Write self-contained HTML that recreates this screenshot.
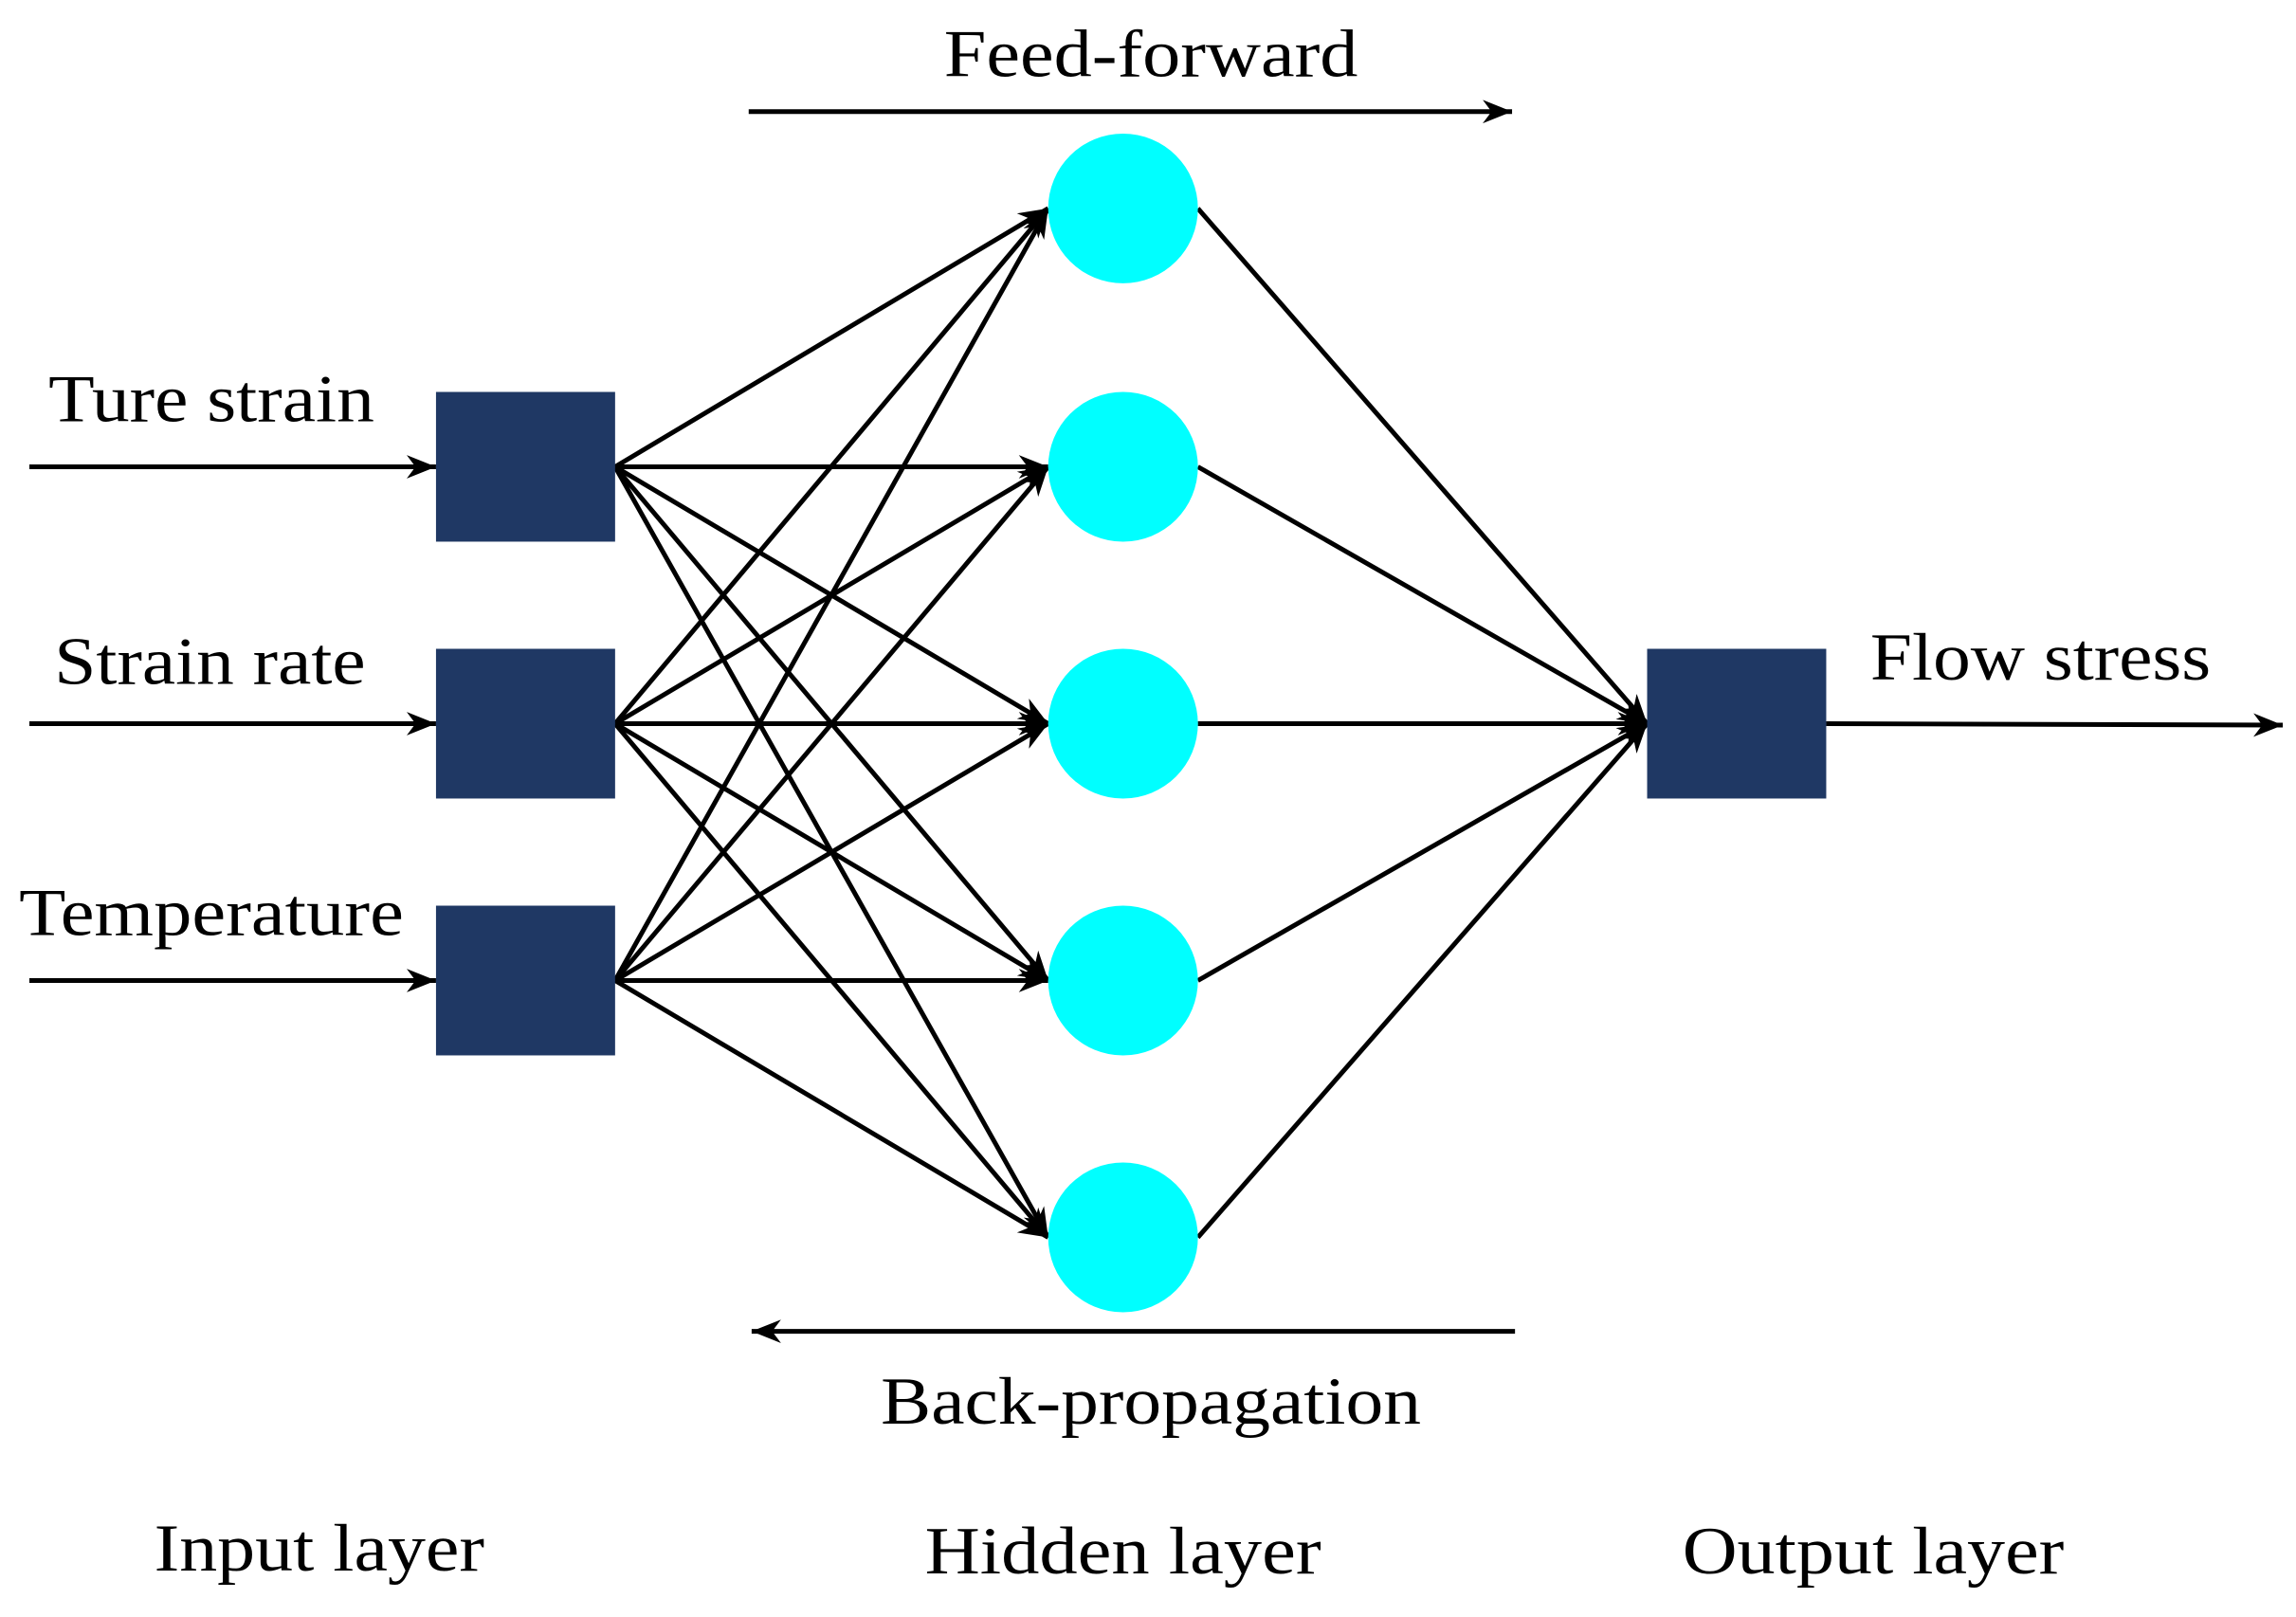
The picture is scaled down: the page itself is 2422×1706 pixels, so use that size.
<!DOCTYPE html>
<html><head><meta charset="utf-8"><style>
html,body{margin:0;padding:0;background:#fff;}
svg{display:block;}
text{font-family:"Liberation Serif",serif;font-size:46px;fill:#000;}
</style></head><body>
<svg width="2422" height="1706" viewBox="0 0 1564 1101.6" xmlns="http://www.w3.org/2000/svg">
<defs>
<marker id="b" viewBox="0 0 10 10" refX="10" refY="5" markerWidth="20" markerHeight="16" markerUnits="userSpaceOnUse" orient="auto" preserveAspectRatio="none">
<path d="M0,0 L10,5 L0,10 L3,5 Z" fill="#000"/>
</marker>
</defs>
<g stroke="#000" stroke-width="3.2" fill="none">
<g marker-end="url(#b)">
<line x1="419" y1="318" x2="714" y2="142"/><line x1="419" y1="318" x2="714" y2="318"/><line x1="419" y1="318" x2="714" y2="493"/><line x1="419" y1="318" x2="714" y2="668"/><line x1="419" y1="318" x2="714" y2="843"/>
<line x1="419" y1="493" x2="714" y2="142"/><line x1="419" y1="493" x2="714" y2="318"/><line x1="419" y1="493" x2="714" y2="493"/><line x1="419" y1="493" x2="714" y2="668"/><line x1="419" y1="493" x2="714" y2="843"/>
<line x1="419" y1="668" x2="714" y2="142"/><line x1="419" y1="668" x2="714" y2="318"/><line x1="419" y1="668" x2="714" y2="493"/><line x1="419" y1="668" x2="714" y2="668"/><line x1="419" y1="668" x2="714" y2="843"/>
<line x1="816" y1="142" x2="1122" y2="493"/><line x1="816" y1="318" x2="1122" y2="493"/><line x1="816" y1="493" x2="1122" y2="493"/><line x1="816" y1="668" x2="1122" y2="493"/><line x1="816" y1="843" x2="1122" y2="493"/>
<line x1="20" y1="318" x2="297" y2="318"/><line x1="20" y1="493" x2="297" y2="493"/><line x1="20" y1="668" x2="297" y2="668"/>
<line x1="1244" y1="493" x2="1555" y2="494"/>
<line x1="510" y1="76" x2="1030" y2="76"/>
<line x1="1032" y1="907" x2="512" y2="907"/>
</g>
</g>
<g fill="#1f3864">
<rect x="297" y="267" width="122" height="102"/>
<rect x="297" y="442" width="122" height="102"/>
<rect x="297" y="617" width="122" height="102"/>
<rect x="1122" y="442" width="122" height="102"/>
</g>
<g fill="#00ffff">
<ellipse cx="765" cy="142" rx="51" ry="51"/>
<ellipse cx="765" cy="318" rx="51" ry="51"/>
<ellipse cx="765" cy="493" rx="51" ry="51"/>
<ellipse cx="765" cy="668" rx="51" ry="51"/>
<ellipse cx="765" cy="843" rx="51" ry="51"/>
</g>
<text x="643" y="52" textLength="282" lengthAdjust="spacingAndGlyphs">Feed-forward</text>
<text x="33" y="287" textLength="222" lengthAdjust="spacingAndGlyphs">Ture strain</text>
<text x="37" y="466" textLength="212" lengthAdjust="spacingAndGlyphs">Strain rate</text>
<text x="13" y="637" textLength="262" lengthAdjust="spacingAndGlyphs">Temperature</text>
<text x="1274" y="463" textLength="232" lengthAdjust="spacingAndGlyphs">Flow stress</text>
<text x="600" y="970" textLength="368" lengthAdjust="spacingAndGlyphs">Back-propagation</text>
<text x="105" y="1070" textLength="225" lengthAdjust="spacingAndGlyphs">Input layer</text>
<text x="630" y="1072" textLength="270" lengthAdjust="spacingAndGlyphs">Hidden layer</text>
<text x="1146" y="1072" textLength="260" lengthAdjust="spacingAndGlyphs">Output layer</text>
</svg>
</body></html>
